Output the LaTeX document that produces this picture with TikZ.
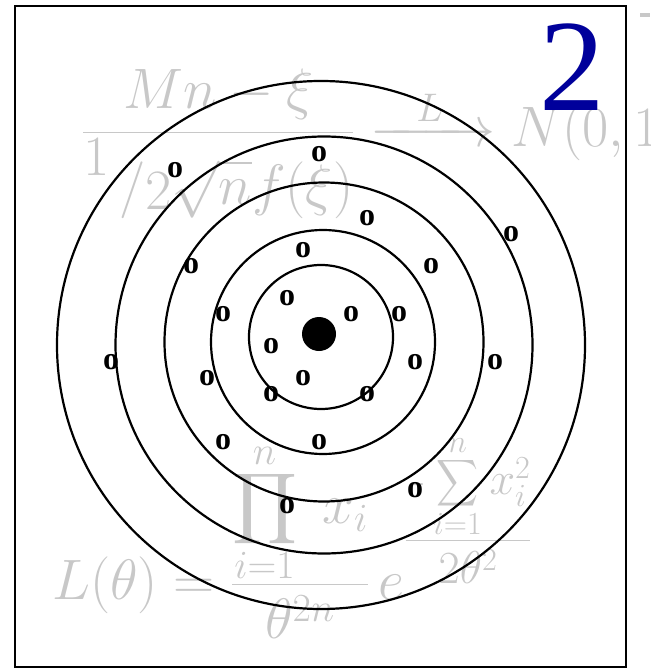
\documentclass[tikz,border=0pt]{standalone}
\usepackage{fix-cm}
\usepackage{amsmath}
\usepackage{graphicx}
\usepackage{fontspec}
\newfontfamily\serifnum{Liberation Serif}
\usepackage{xcolor}
\usepackage{tikz}
\usetikzlibrary{positioning}

\definecolor{formgray}{RGB}{200,200,200}
\definecolor{digitblue}{RGB}{0,0,155}

% big operators as the faint formulas show them
\newcommand{\bigprod}{\mathop{\vcenter{\hbox{\resizebox*{65pt}{79pt}{$\displaystyle\prod$}}}}\limits}
\newcommand{\bigsum}{\mathop{\vcenter{\hbox{\resizebox*{42pt}{52pt}{$\displaystyle\sum$}}}}\limits}

\begin{document}
\begin{tikzpicture}[
  x=1pt, y=-1pt,
  ring/.style={circle, draw, line width=2.2pt, inner sep=0pt},
  bead/.style={inner sep=0pt, font=\serifnum\bfseries\fontsize{32}{32}\selectfont},
  formula/.style={inner sep=0pt, text=formgray, font=\fontsize{57}{60}\selectfont},
  badge/.style={inner sep=0pt, text=digitblue, font=\serifnum\fontsize{131}{131}\selectfont}
]
  \useasboundingbox (0,0) rectangle (650,668);

  % faint formulas behind the target
  \node[formula, anchor=base west] (clt) at (82,147)
    {$\dfrac{Mn-\xi}{\rule{0pt}{68pt}\raisebox{0.5em}{$1$}\,/\raisebox{-0.1em}{$2$}\sqrt{n}f(\xi)}\xrightarrow{\hspace{34pt}L\hspace{34pt}}N(0,1)$};
  \node[formula, anchor=base west] (lik) at (52,599)
    {$L(\theta)=\dfrac{\bigprod_{i=1}^{n}\;x_i}{\theta^{2n}}\,e\raisebox{47pt}{\fontsize{46}{48}\selectfont$\dfrac{\hspace{6pt}\text{-}\bigsum_{i=1}^{n}x_i^2}{2\theta^2}$}$};
  \fill[formgray] (640,13) rectangle (650,17);

  \draw[line width=2.5pt] (15,6) rectangle (626,667);

  % rings
  \node[ring, minimum size=528pt] (ring1) at (321,345) {};
  \node[ring, minimum size=417pt] (ring2) at (324,345) {};
  \node[ring, minimum size=319pt] (ring3) at (324,342) {};
  \node[ring, minimum size=224pt] (ring4) at (323,342) {};
  \node[ring, minimum size=144pt] (ring5) at (321,337) {};
  \node[circle, fill, inner sep=0pt, minimum size=34pt] (hub) at (319,334) {};

  % hits
  \node[bead] (o1) at (175,170) {o};
  \node[bead] (o2) at (319,154) {o};
  \node[bead] (o3) at (367,218) {o};
  \node[bead] (o4) at (511,234) {o};
  \node[bead] (o5) at (191,266) {o};
  \node[bead] (o6) at (303,250) {o};
  \node[bead] (o7) at (431,266) {o};
  \node[bead] (o8) at (223,314) {o};
  \node[bead] (o9) at (287,298) {o};
  \node[bead] (o10) at (351,314) {o};
  \node[bead] (o11) at (399,314) {o};
  \node[bead] (o12) at (271,346) {o};
  \node[bead] (o13) at (415,362) {o};
  \node[bead] (o14) at (111,362) {o};
  \node[bead] (o15) at (495,362) {o};
  \node[bead] (o16) at (207,378) {o};
  \node[bead] (o17) at (303,378) {o};
  \node[bead] (o18) at (271,394) {o};
  \node[bead] (o19) at (367,394) {o};
  \node[bead] (o20) at (223,442) {o};
  \node[bead] (o21) at (319,442) {o};
  \node[bead] (o22) at (415,490) {o};
  \node[bead] (o23) at (287,506) {o};

  \node[badge] (num) at (572,67) {2};
\end{tikzpicture}
\end{document}
